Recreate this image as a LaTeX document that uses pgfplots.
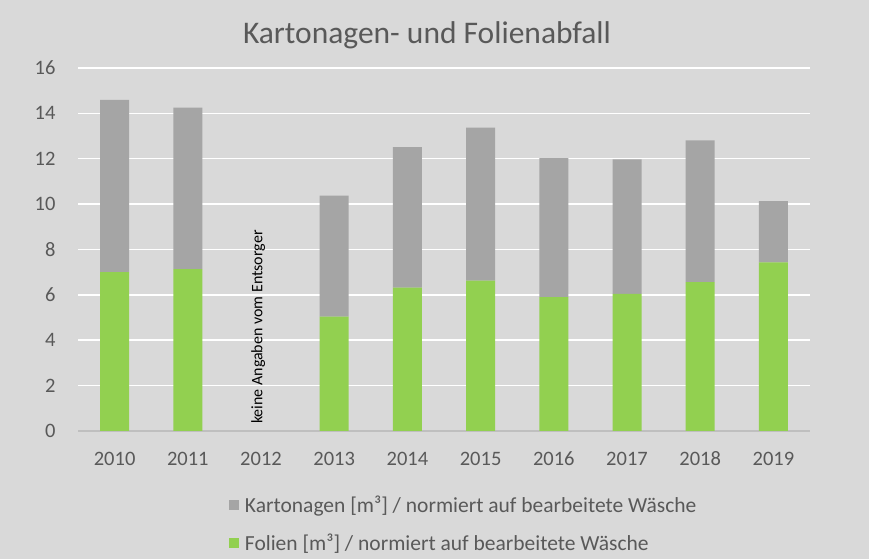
\documentclass[border=0pt]{standalone}
\usepackage{fontspec}
\setmainfont{Carlito}
\usepackage{pgfplots}
\pgfplotsset{compat=1.18}
\definecolor{bg}{HTML}{D9D9D9}
\definecolor{txt}{HTML}{595959}
\definecolor{folie}{HTML}{92D050}
\definecolor{karton}{HTML}{A5A5A5}
\definecolor{axl}{HTML}{BFBFBF}
\begin{document}
\begin{tikzpicture}
\fill[bg] (0,0) rectangle (869bp,559bp);
\useasboundingbox (0,0) rectangle (869bp,559bp);
\node[font=\fontsize{31.5bp}{36bp}\selectfont, text=txt] at (427bp,524bp) {Kartonagen- und Folienabfall};
\begin{axis}[
  at={(78bp,128bp)}, anchor=south west,
  scale only axis, width=732bp, height=363bp,
  xmin=-0.5, xmax=9.5, ymin=0, ymax=16,
  ybar stacked, bar width=29bp,
  xtick={0,1,2,3,4,5,6,7,8,9},
  xticklabels={2010,2011,2012,2013,2014,2015,2016,2017,2018,2019},
  ytick={0,2,4,6,8,10,12,14,16},
  ymajorgrids, grid style={white, line width=1.5bp},
  axis lines*=left,
  y axis line style={draw=none},
  x axis line style={draw=axl, line width=1.5bp},
  major tick length=0pt,
  tick label style={font=\fontsize{20.5bp}{24bp}\selectfont, text=txt},
  /pgf/number format/assume math mode=true,
  xticklabel style={yshift=-17bp, text height=14bp, text depth=0pt},
  yticklabel style={xshift=-19bp},
  reverse legend,
  legend cell align=left,
  legend style={at={(0.206,-0.172)}, anchor=north west, draw=none, fill=none,
    font=\fontsize{21.5bp}{25bp}\selectfont, text=txt, row sep=16bp, inner sep=0pt},
  legend image code/.code={\fill[#1] (0bp,-5bp) rectangle (10bp,5bp); \path (14bp,0bp);},
]
\addplot[fill=folie, draw=none] coordinates {
  (0,7.00) (1,7.13) (2,0) (3,5.04) (4,6.32) (5,6.63) (6,5.90) (7,6.04) (8,6.56) (9,7.43)};
\addlegendentry{Folien [m³] / normiert auf bearbeitete Wäsche}
\addplot[fill=karton, draw=none] coordinates {
  (0,7.59) (1,7.12) (2,0) (3,5.33) (4,6.19) (5,6.74) (6,6.13) (7,5.93) (8,6.25) (9,2.70)};
\addlegendentry{Kartonagen [m³] / normiert auf bearbeitete Wäsche}
\node[rotate=90, anchor=west, font=\fontsize{16bp}{19bp}\selectfont, text=black, inner sep=0pt] at (axis cs:1.96,0.3) {keine Angaben vom Entsorger};
\end{axis}
\end{tikzpicture}
\end{document}
